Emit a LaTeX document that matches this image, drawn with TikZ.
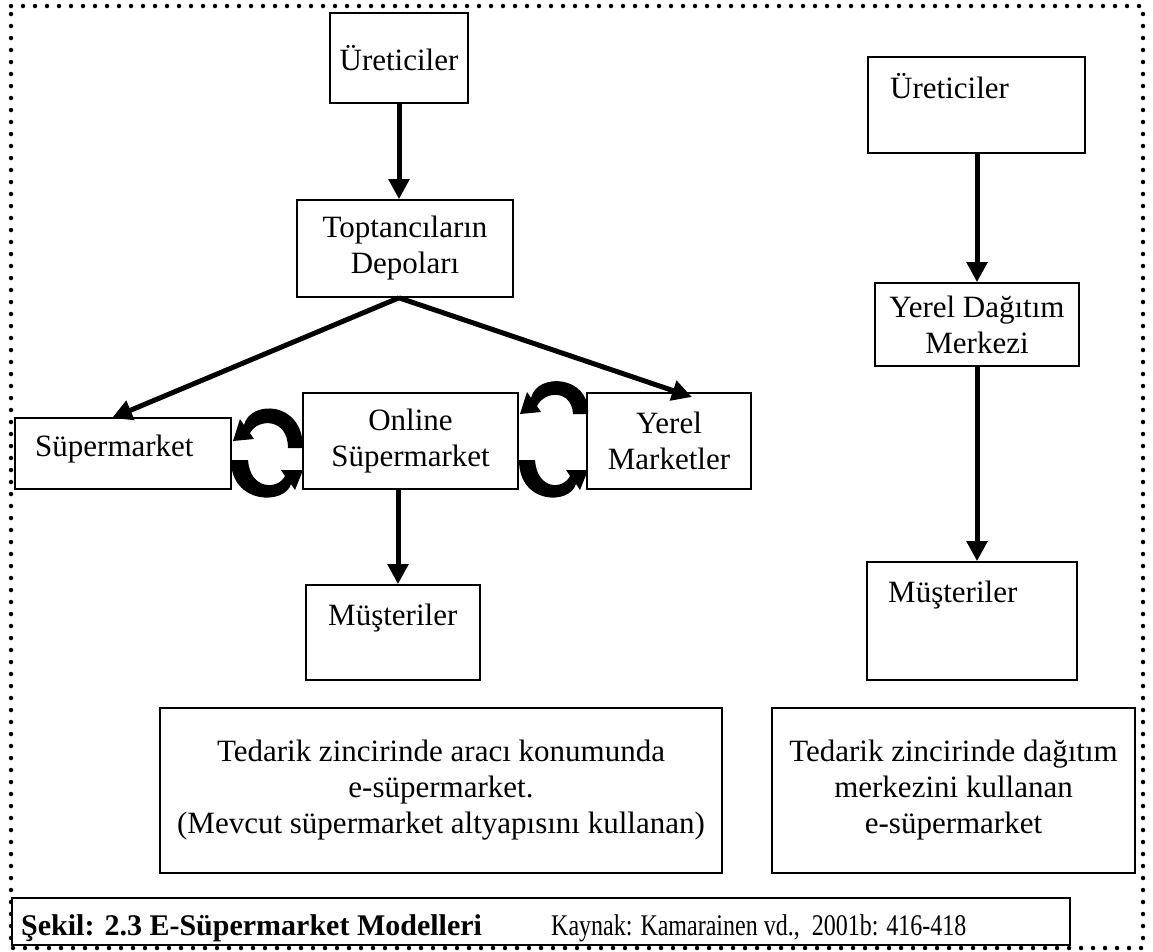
\documentclass[tikz,border=0pt]{standalone}
\usepackage{fontspec}
\setmainfont{Liberation Serif}
\usetikzlibrary{arrows.meta,calc}
\tikzset{
  box/.style={draw=black, line width=1.6pt, fill=white, inner sep=0pt, align=center, font=\fontsize{31}{36}\selectfont},
  txt/.style={inner sep=0pt, font=\fontsize{31}{36}\selectfont},
  arr/.style={line width=5pt, -{Triangle[length=20pt,width=20pt]}},
  curv/.style={fill=black},
  border/.style={line width=4.5pt, line cap=round, dash pattern=on 0pt off 12pt}
}
\newcommand{\boxat}[6]{\node[box, minimum width=#3-#1, minimum height=#4-#2] (#5) at ({(#1+#3)/2},{(#2+#4)/2}) {#6};}
\begin{document}
\begin{tikzpicture}[x=1pt,y=-1pt]
\useasboundingbox (0,0) rectangle (1153,951);
\fill[white] (0,0) rectangle (1153,951);
% dotted border
\draw[border] (11,6) -- (1143,6) -- (1143,948) -- (11,948) -- cycle;

% left column
\boxat{330}{13}{468}{103}{ur1}{Üreticiler}
\boxat{297}{200}{513}{297}{top}{Toptancıların\\Depoları}
\boxat{15}{418}{231}{489}{sup}{}
\node[txt, anchor=base west] (supt) at (35,456) {Süpermarket};
\boxat{303}{393}{518}{489}{onl}{Online\\Süpermarket}
\boxat{587}{393}{751}{489}{yer}{Yerel\\Marketler}
\boxat{306}{585}{480}{680}{mus1}{}
\node[txt, anchor=base west] (mus1t) at (328,625) {Müşteriler};

% right column
\boxat{868}{57}{1085}{153}{ur2}{}
\node[txt, anchor=base west] (ur2t) at (890,98) {Üreticiler};
\boxat{875}{283}{1079}{366}{ydm}{Yerel Dağıtım\\Merkezi}
\boxat{867}{562}{1077}{680}{mus2}{}
\node[txt, anchor=base west] (mus2t) at (888,602) {Müşteriler};

% captions
\boxat{160}{708}{722}{873}{cap1}{Tedarik zincirinde aracı konumunda\\e-süpermarket.\\(Mevcut süpermarket altyapısını kullanan)}
\boxat{772}{708}{1135}{873}{cap2}{Tedarik zincirinde dağıtım\\merkezini kullanan\\e-süpermarket}
\node[draw=black, line width=1.6pt, fill=white, minimum width=1058, minimum height=47, inner sep=0pt] (fig) at (541,921.5) {};
\node[anchor=base west, inner sep=0pt, font=\fontsize{30}{34}\selectfont\bfseries] (figt) at (21,935) {Şekil: 2.3 E-Süpermarket Modelleri};
\node[anchor=base west, inner sep=0pt, font=\fontsize{30}{34}\selectfont] (src) at (551,935) {\scalebox{0.8}[1]{Kaynak: Kamarainen vd.,\ \ 2001b: 416-418}};

% arrows
\draw[arr] (ur1.south -| 399,0) -- (top.north -| 399,0);
\draw[arr] (top.south -| 399,0) -- (112,418);
\draw[arr] (top.south -| 399,0) -- (692,397);
\draw[arr] (onl.south -| 398,0) -- (mus1.north -| 398,0);
\draw[arr] (ur2.south -| 977,0) -- (ydm.north -| 977,0);
\draw[arr] (ydm.south -| 977,0) -- (mus2.north -| 977,0);

% circular arrows
\fill[curv] (303,448) .. controls (303,400) and (250,400) .. (244,425) -- (240,419) -- (233,441) -- (254,439) -- (250,433) .. controls (258,418) and (288,418) .. (288,448) -- cycle;
\fill[curv] (231,460) .. controls (231,505) and (285,505) .. (291,484) -- (295,490) -- (303,470) -- (281,470) -- (285,476) .. controls (278,490) and (250,490) .. (248,460) -- cycle;
\fill[curv] (588,414) .. controls (590,375) and (537,372) .. (531,398) -- (527,392) -- (520,414) -- (541,412) -- (537,406) .. controls (545,390) and (572,390) .. (573,414) -- cycle;
\fill[curv] (519,460) .. controls (519,505) and (570,505) .. (576,484) -- (580,490) -- (588,470) -- (566,470) -- (570,476) .. controls (563,490) and (537,490) .. (535,460) -- cycle;
\end{tikzpicture}
\end{document}
